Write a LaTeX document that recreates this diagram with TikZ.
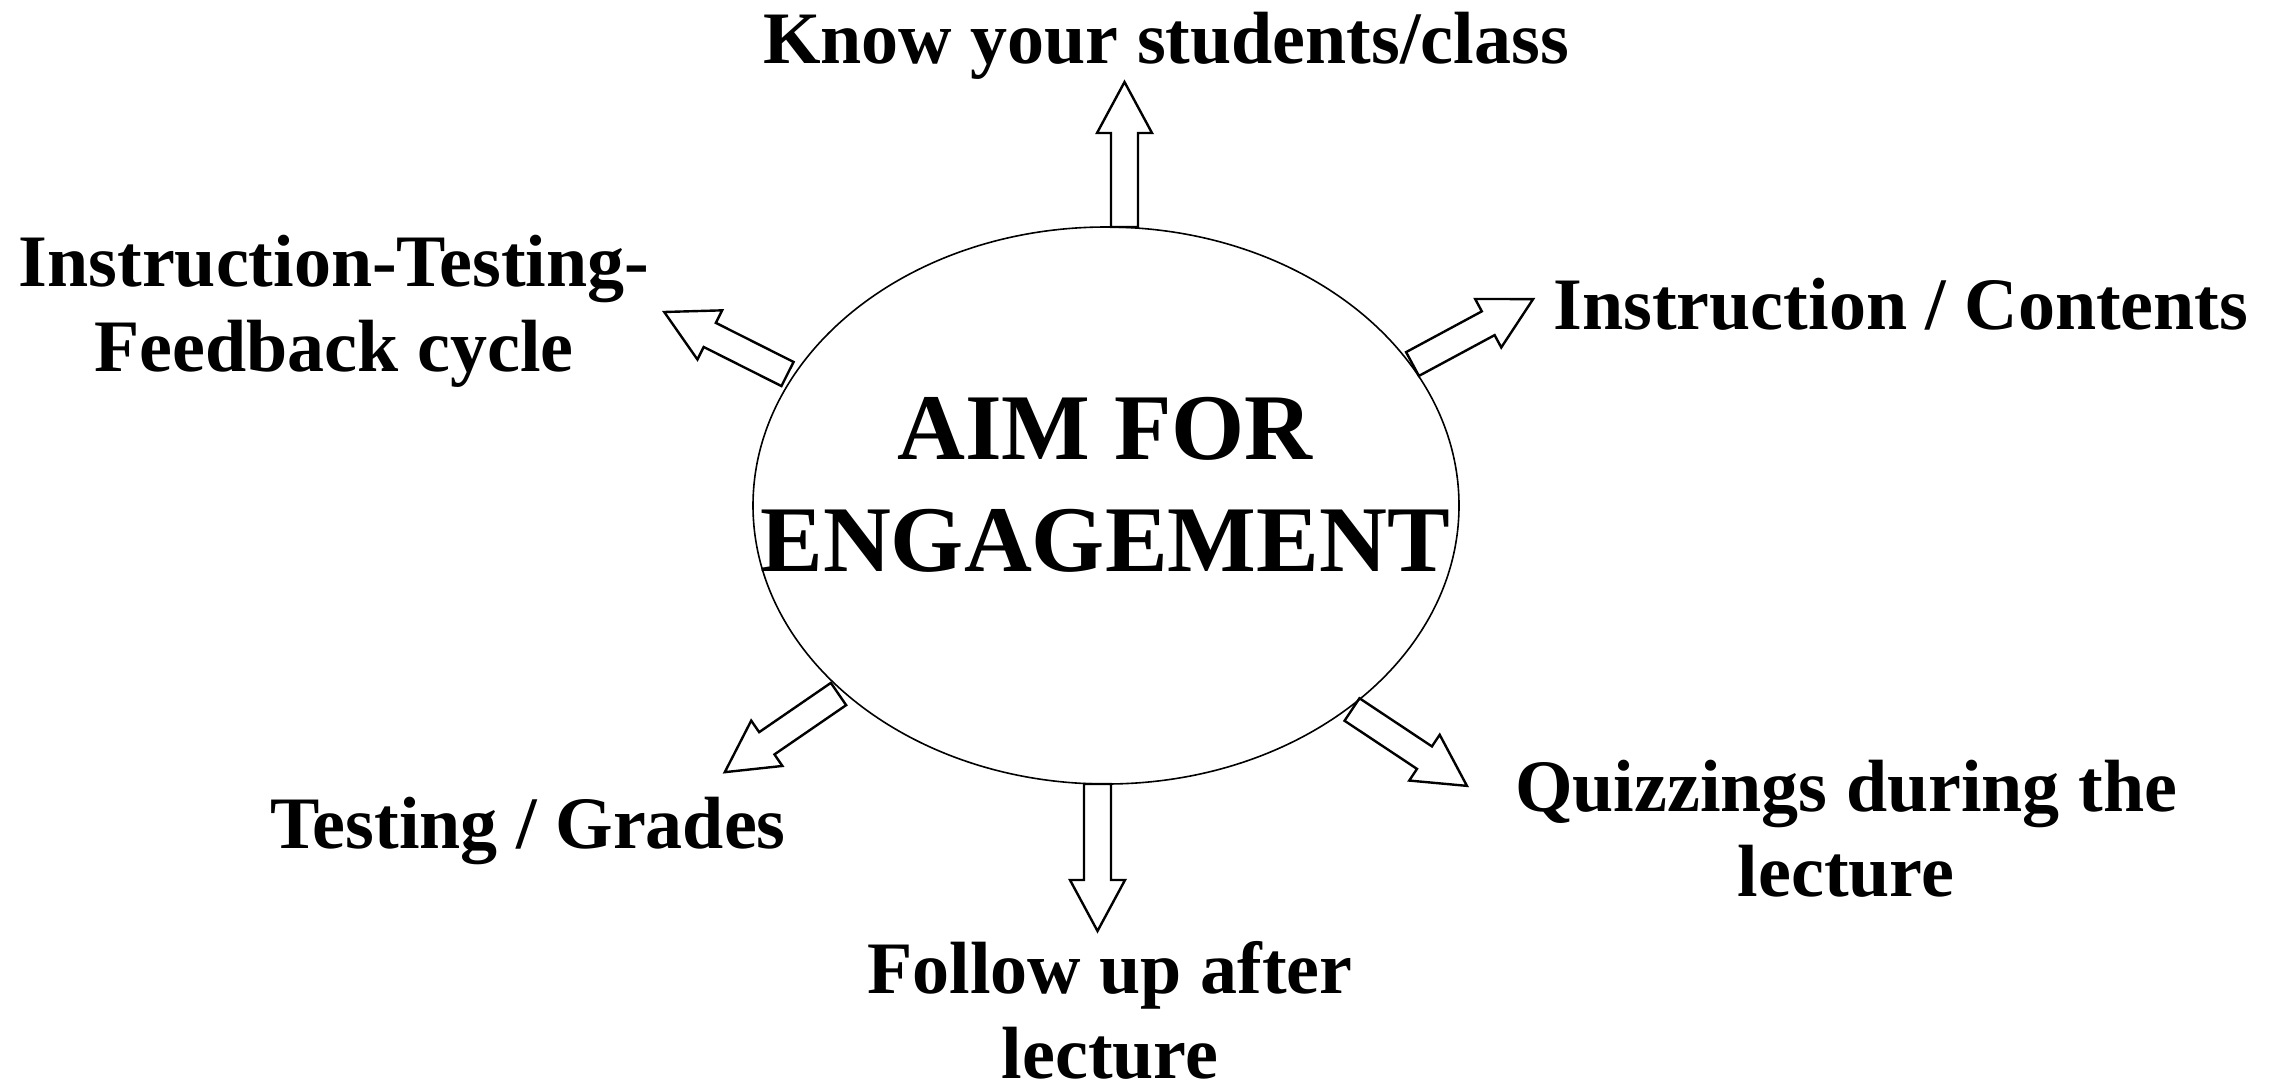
\documentclass[tikz,border=0pt]{standalone}
\usepackage{fontspec}
\setmainfont{Liberation Serif}
\usetikzlibrary{shapes.geometric}
\tikzset{
  arrowline/.style={draw=black, fill=white, line width=2.4pt, line join=miter},
  label/.style={inner sep=0pt, align=center, font=\fontsize{74}{85}\selectfont\bfseries},
  core/.style={inner sep=0pt, align=center, font=\fontsize{94}{112}\selectfont\bfseries},
}
\newcommand{\blkarrow}[3]{%
  \begin{scope}[shift={#1},rotate=#2]
    \draw[arrowline] (0,-13.5) -- (#3-51,-13.5) -- (#3-51,-27.5) -- (#3,0)
      -- (#3-51,27.5) -- (#3-51,13.5) -- (0,13.5) -- cycle;
  \end{scope}}
\begin{document}
\begin{tikzpicture}[x=1pt,y=-1pt]
\useasboundingbox (0,0) rectangle (2274,1085);
% tails of the block arrows
\coordinate (tTop) at (1124.5,227);
\coordinate (tBot) at (1097.5,784);
\coordinate (tUL) at (787.5,374);
\coordinate (tUR) at (1412.5,364);
\coordinate (tLL) at (838.5,694);
\coordinate (tLR) at (1352,709.5);
\blkarrow{(tTop)}{90}{145}
\blkarrow{(tBot)}{270}{147}
\blkarrow{(tUL)}{153.3}{138}
\blkarrow{(tUR)}{28.3}{137}
\blkarrow{(tLL)}{214.5}{138}
\blkarrow{(tLR)}{326.4}{138}
\node[draw, ellipse, line width=1.6pt, minimum width=706pt, minimum height=557pt, inner sep=0pt] (aim) at (1106,505.5) {};
\node[core, anchor=base] (aimtext) at (1105,571) {AIM FOR\\ENGAGEMENT};
\node[label, anchor=base] (know) at (1166,63) {Know your students/class};
\node[label, anchor=base] (itf) at (334,371) {Instruction-Testing-\\Feedback cycle};
\node[label, anchor=base] (ic) at (1901,329) {Instruction / Contents};
\node[label, anchor=base] (tg) at (528,848) {Testing / Grades};
\node[label, anchor=base] (quiz) at (1846,896) {Quizzings during the\\lecture};
\node[label, anchor=base] (fol) at (1110,1078) {Follow up after\\lecture};
\end{tikzpicture}
\end{document}
